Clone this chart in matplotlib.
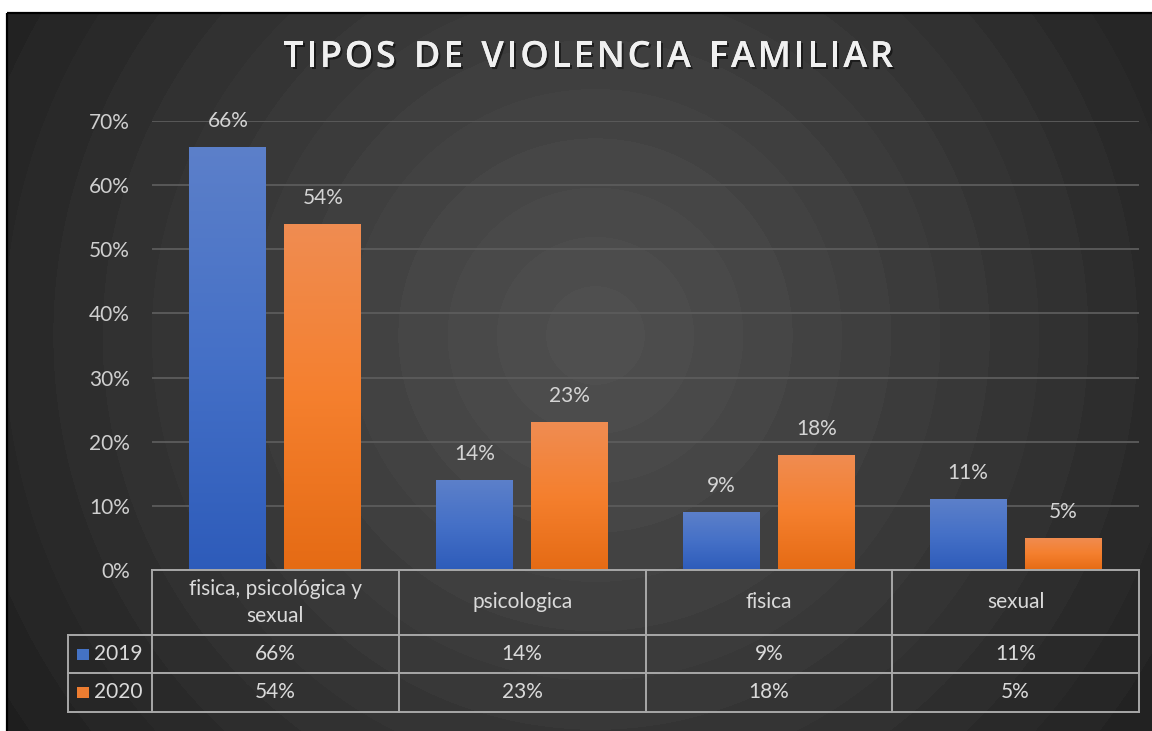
import numpy as np
import matplotlib
matplotlib.use('Agg')
import matplotlib.pyplot as plt
from matplotlib.patches import Rectangle
from matplotlib import transforms
from matplotlib.font_manager import FontProperties
import matplotlib.patheffects as pe

# ---------------- data ----------------
title = 'TIPOS DE VIOLENCIA FAMILIAR'
categories = ['fisica, psicológica y\nsexual', 'psicologica', 'fisica', 'sexual']
series_names = ['2019', '2020']
values_2019 = [66, 14, 9, 11]
values_2020 = [54, 23, 18, 5]
y_ticks = [0, 10, 20, 30, 40, 50, 60, 70]

plt.rcParams['font.family'] = ['Lato', 'DejaVu Sans']

W, H = 1152, 731
fig = plt.figure(figsize=(W / 100, H / 100), dpi=100, facecolor='white')

# ---------- background with radial gradient ----------
bg = fig.add_axes([0, 0, 1, 1], zorder=0)
bg.axis('off')
yy, xx = np.mgrid[14:H, 8:W]
r = np.hypot(xx - 595.0, yy - 335.0)
rn = np.clip(r / 690.0, 0, 1)
lvl = np.floor(rn * 14) / 14
val = 0.31 - 0.19 * lvl ** 1.1
img = np.dstack([val, val, val])
bg.imshow(img, extent=(8, W, H, 14), aspect='auto', interpolation='bilinear')
bg.add_patch(Rectangle((7, 13), W, H, fill=False, edgecolor='black', lw=1.6))
bg.set_xlim(0, W)
bg.set_ylim(H, 0)

# ---------- main axes ----------
left_px, right_px, bot_px, top_px = 152, 1139, 570, 121
ax = fig.add_axes([left_px / W, 1 - bot_px / H, (right_px - left_px) / W,
                   (bot_px - top_px) / H], zorder=2)
ax.set_facecolor('none')
for s in ax.spines.values():
    s.set_visible(False)

x = np.arange(len(categories))
bw = 0.312
off = 0.1925
grads = {
    '2019': [(0.36, 0.50, 0.79), (0.27, 0.44, 0.78), (0.18, 0.36, 0.73)],
    '2020': [(0.94, 0.55, 0.32), (0.96, 0.50, 0.18), (0.90, 0.42, 0.08)],
}
for vals, name, sgn in [(values_2019, '2019', -1), (values_2020, '2020', 1)]:
    bars = ax.bar(x + sgn * off, vals, width=bw, color='none', edgecolor='none', zorder=3)
    c0, c1, c2 = [np.array(c) for c in grads[name]]
    g = np.linspace(0, 1, 64)[:, None]
    col = np.where(g[..., None] < 0.5,
                   c0 * (1 - 2 * g[..., None]) + c1 * (2 * g[..., None]),
                   c1 * (2 - 2 * g[..., None]) + c2 * (2 * g[..., None] - 1))
    col = np.repeat(col, 2, axis=1)
    for b, v in zip(bars, vals):
        x0 = b.get_x()
        im = ax.imshow(col, extent=(x0, x0 + bw, 0, v), aspect='auto', zorder=3,
                       interpolation='bilinear')
        im.set_clip_path(b)
        ax.annotate(f'{v}%', (x0 + bw / 2, v), xytext=(0, 26), textcoords='offset pixels',
                    ha='center', va='center', color='#d4d4d4', fontsize=15, zorder=5)

ax.set_xlim(-0.5, 3.5)
ax.set_ylim(0, 70)
ax.set_aspect('auto')
ax.set_yticks(y_ticks)
ax.set_yticklabels([f'{t}%' for t in y_ticks])
ax.tick_params(axis='y', length=0, pad=16, labelsize=15, labelcolor='#cfcfcf')
ax.tick_params(axis='x', bottom=False, labelbottom=False)
ax.yaxis.grid(True, color='#5c5c5c', lw=1.3, zorder=1)
ax.set_axisbelow(True)

# ---------- data table ----------
tr = transforms.blended_transform_factory(ax.transData, ax.transAxes)
ah = bot_px - top_px
cat_px = (right_px - left_px) / len(categories)
y0, y1, y2, y3 = 0, -65 / ah, -103 / ah, -142 / ah
xL = -0.5 - 84 / cat_px
lc = '#a8a8a8'
lw = 1.4
kw = dict(transform=tr, color=lc, lw=lw, clip_on=False, zorder=4, solid_capstyle='projecting')
ax.plot([-0.5, 3.5], [y0, y0], **kw)
for yv in (y1, y2, y3):
    ax.plot([xL, 3.5], [yv, yv], **kw)
ax.plot([xL, xL], [y1, y3], **kw)
for xv in np.arange(-0.5, 3.6, 1.0):
    ax.plot([xv, xv], [y0, y3], **kw)

tc = '#dadada'
for i, c in enumerate(categories):
    ax.text(i, (y0 + y1) / 2, c, transform=tr, ha='center', va='center', color=tc,
            fontsize=15, linespacing=1.4, clip_on=False)
for (vals, name, col, ya, yb) in [(values_2019, '2019', '#4472c4', y1, y2),
                                   (values_2020, '2020', '#ed7d31', y2, y3)]:
    ym = (ya + yb) / 2
    for i, v in enumerate(vals):
        ax.text(i, ym, f'{v}%', transform=tr, ha='center', va='center', color=tc,
                fontsize=15, clip_on=False)
    sq_w = 12 / cat_px
    sq_h = 11 / ah
    ax.add_patch(Rectangle((xL + 9 / cat_px, ym - sq_h / 2), sq_w, sq_h, transform=tr,
                           facecolor=col, edgecolor='none', clip_on=False, zorder=5))
    ax.text(xL + 26 / cat_px, ym, name, transform=tr, ha='left', va='center', color=tc,
            fontsize=15, clip_on=False)

# ---------- title with letter spacing ----------
fp = FontProperties(family=['Open Sans', 'DejaVu Sans'], weight='semibold', size=26)
renderer = fig.canvas.get_renderer()
widths = []
for ch in title:
    if ch == ' ':
        w, _, _ = renderer.get_text_width_height_descent('n', fp, ismath=False)
        w *= 0.55
    else:
        w, _, _ = renderer.get_text_width_height_descent(ch, fp, ismath=False)
    widths.append(w)
target_w = 893 - 283
spacing = (target_w - sum(widths)) / (len(title) - 1)
xpos = 283.0
for ch, w in zip(title, widths):
    if ch != ' ':
        t = fig.text(xpos / W, 1 - 58 / H, ch, ha='left', va='center', fontproperties=fp,
                     color='#f0f0f0', zorder=5)
        t.set_path_effects([pe.withSimplePatchShadow(offset=(1.5, -1.5),
                                                     shadow_rgbFace='black', alpha=0.5),
                            pe.Normal()])
    xpos += w + spacing

fig.savefig('out.png', dpi=100, facecolor='white')
